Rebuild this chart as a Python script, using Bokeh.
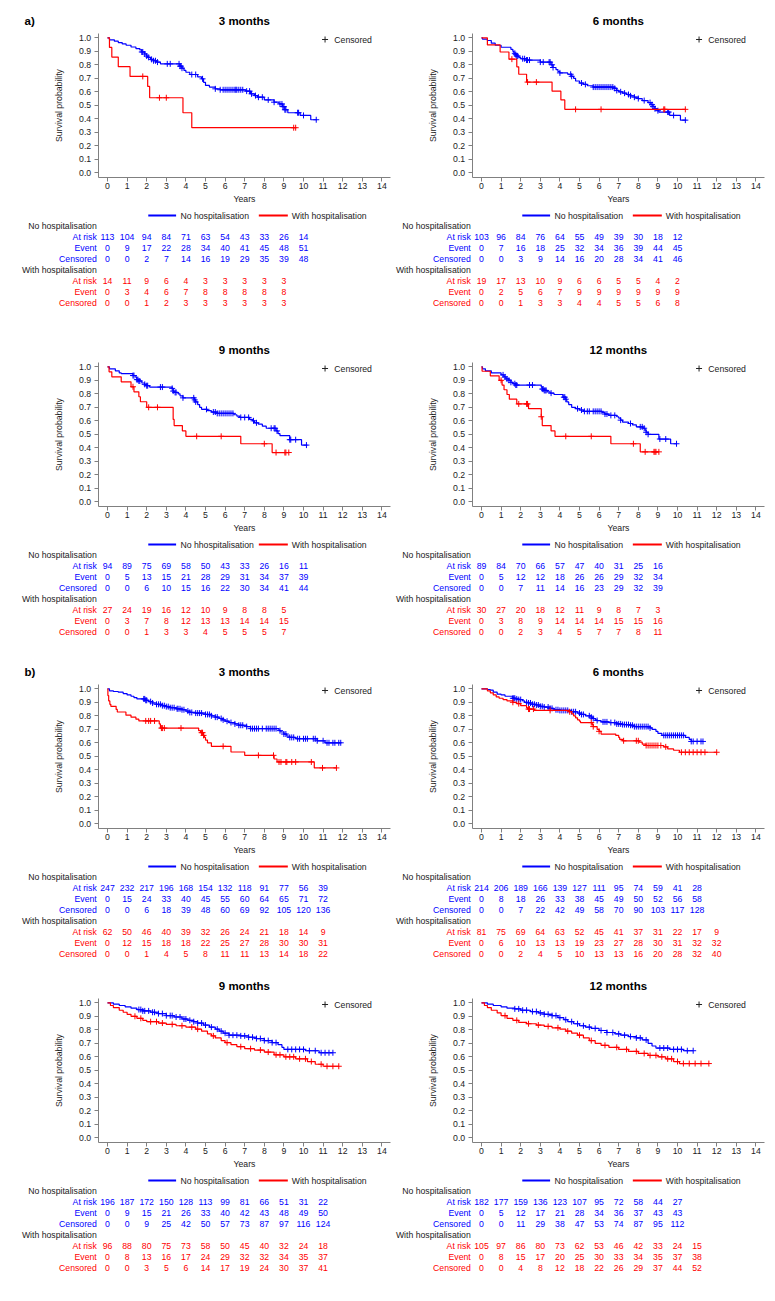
from bokeh.plotting import figure
from bokeh.layouts import column, row
from bokeh.models import Range1d, FixedTicker, NumeralTickFormatter, LinearAxis
from bokeh.embed import file_html
from bokeh.resources import INLINE
from bokeh.core.properties import value

FONT = "Liberation Sans"
BLUE = "#0000FF"
RED = "#FF0000"
AXIS_C = "#808080"
TXT = "#222222"

YEARS = list(range(15))
Y_TICKS = [i / 10 for i in range(11)]
ROW_LABELS = ["At risk", "Event", "Censored"]

# ---------------- a) 3 months ----------------
A3_NO = [(0, 1.0), (0.1, 0.985), (0.35, 0.975), (0.55, 0.965), (0.75, 0.955), (0.95, 0.945), (1.2, 0.932),
         (1.45, 0.92), (1.65, 0.91), (1.75, 0.895), (1.9, 0.88), (2.0, 0.865), (2.05, 0.855), (2.2, 0.84),
         (2.35, 0.83), (2.5, 0.82), (2.7, 0.807), (3.7, 0.79), (3.8, 0.775), (3.9, 0.758), (4.0, 0.745),
         (4.2, 0.728), (4.6, 0.71), (4.8, 0.696), (4.9, 0.67), (5.0, 0.647), (5.2, 0.635), (5.5, 0.622),
         (5.75, 0.615), (7.05, 0.605), (7.3, 0.585), (7.5, 0.572), (7.65, 0.56), (8.0, 0.54), (8.5, 0.523),
         (8.75, 0.51), (8.93, 0.49), (9.05, 0.467), (9.2, 0.445), (9.83, 0.425), (10.37, 0.393)]
A3_NO_END = 10.68
A3_NO_CENS = [1.75, 1.8, 1.9, 2.0, 2.1, 2.25, 2.35, 2.45, 2.55, 3.05, 3.2, 3.65, 3.7, 3.75, 3.8, 4.3, 4.5, 4.85,
              5.5, 5.75, 5.9, 6.0, 6.1, 6.2, 6.3, 6.4, 6.5, 6.55, 6.6, 6.7, 6.8, 6.9, 7.1, 7.25, 7.35, 7.55,
              7.7, 7.9, 8.2, 8.5, 8.8, 8.9, 8.95, 9.0, 9.05, 9.1, 9.7, 9.75, 10.0, 10.65]
A3_W = [(0, 1.0), (0.1, 0.929), (0.22, 0.857), (0.55, 0.786), (1.15, 0.714), (2.05, 0.64), (2.15, 0.556),
        (3.85, 0.445), (4.3, 0.334)]
A3_W_END = 9.6
A3_W_CENS = [1.8, 2.65, 3.0, 9.5, 9.6]
A3_NO_RISK = [113, 104, 94, 84, 71, 63, 54, 43, 33, 26, 14]
A3_NO_EVENT = [0, 9, 17, 22, 28, 34, 40, 41, 45, 48, 51]
A3_NO_CENSN = [0, 0, 2, 7, 14, 16, 19, 29, 35, 39, 48]
A3_W_RISK = [14, 11, 9, 6, 4, 3, 3, 3, 3, 3]
A3_W_EVENT = [0, 3, 4, 6, 7, 8, 8, 8, 8, 8]
A3_W_CENSN = [0, 0, 1, 2, 3, 3, 3, 3, 3, 3]

# ---------------- a) 6 months ----------------
A6_NO = [(0, 1.0), (0.05, 0.99), (0.3, 0.98), (0.5, 0.96), (0.7, 0.945), (1.0, 0.93), (1.5, 0.915), (1.6, 0.9),
         (1.65, 0.885), (1.75, 0.875), (1.8, 0.865), (1.9, 0.855), (2.0, 0.845), (2.3, 0.835), (3.0, 0.82),
         (3.55, 0.8), (3.65, 0.78), (3.8, 0.765), (3.9, 0.75), (4.0, 0.74), (4.4, 0.73), (4.6, 0.715),
         (4.7, 0.7), (4.8, 0.68), (5.0, 0.665), (5.2, 0.655), (5.4, 0.645), (5.7, 0.635), (6.8, 0.625),
         (6.9, 0.61), (7.0, 0.6), (7.2, 0.59), (7.4, 0.58), (7.6, 0.57), (7.8, 0.56), (8.0, 0.55), (8.2, 0.535),
         (8.5, 0.52), (8.65, 0.505), (8.75, 0.49), (8.85, 0.475), (8.95, 0.46), (9.05, 0.45), (9.6, 0.425),
         (10.15, 0.39)]
A6_NO_END = 10.45
A6_NO_CENS = [1.7, 1.75, 1.8, 1.85, 2.1, 2.2, 2.3, 2.35, 2.45, 3.0, 3.15, 3.45, 3.5, 3.6, 3.65, 4.0, 4.55, 4.6,
              5.1, 5.3, 5.7, 5.8, 5.9, 6.0, 6.1, 6.2, 6.3, 6.4, 6.5, 6.6, 6.7, 6.8, 6.9, 7.1, 7.3, 7.5, 7.6, 7.8,
              8.0, 8.3, 8.6, 8.7, 8.75, 8.85, 9.0, 9.5, 9.55, 9.8, 10.4]
A6_W = [(0, 1.0), (0.3, 0.947), (0.95, 0.895), (1.4, 0.842), (1.8, 0.785), (1.9, 0.73), (2.3, 0.672),
        (3.6, 0.605), (4.05, 0.54), (4.25, 0.47)]
A6_W_END = 10.4
A6_W_CENS = [1.55, 2.35, 2.8, 4.8, 6.1, 9.3, 9.35, 10.4]
A6_NO_RISK = [103, 96, 84, 76, 64, 55, 49, 39, 30, 18, 12]
A6_NO_EVENT = [0, 7, 16, 18, 25, 32, 34, 36, 39, 44, 45]
A6_NO_CENSN = [0, 0, 3, 9, 14, 16, 20, 28, 34, 41, 46]
A6_W_RISK = [19, 17, 13, 10, 9, 6, 6, 5, 5, 4, 2]
A6_W_EVENT = [0, 2, 5, 6, 7, 9, 9, 9, 9, 9, 9]
A6_W_CENSN = [0, 0, 1, 3, 3, 4, 4, 5, 5, 6, 8]

# ---------------- a) 9 months ----------------
A9_NO = [(0, 1.0), (0.1, 0.985), (0.4, 0.97), (0.6, 0.955), (0.7, 0.95), (1.3, 0.935), (1.45, 0.92),
         (1.5, 0.905), (1.6, 0.895), (1.75, 0.88), (1.9, 0.87), (2.0, 0.86), (2.15, 0.85), (3.3, 0.84),
         (3.35, 0.82), (3.4, 0.81), (3.6, 0.8), (3.7, 0.785), (3.85, 0.77), (4.45, 0.755), (4.5, 0.74),
         (4.6, 0.72), (4.7, 0.7), (4.8, 0.685), (5.1, 0.675), (5.3, 0.665), (5.6, 0.655), (6.45, 0.645),
         (6.6, 0.635), (6.75, 0.625), (7.25, 0.61), (7.4, 0.6), (7.5, 0.585), (7.7, 0.575), (7.9, 0.56),
         (8.1, 0.545), (8.6, 0.525), (8.7, 0.505), (8.8, 0.49), (9.3, 0.46), (9.9, 0.42)]
A9_NO_END = 10.2
A9_NO_CENS = [1.3, 1.35, 1.5, 1.55, 1.6, 1.65, 1.9, 2.0, 2.05, 2.7, 2.8, 3.3, 3.35, 3.45, 3.5, 3.85, 4.4, 4.45,
              4.5, 5.05, 5.4, 5.5, 5.6, 5.7, 5.8, 5.9, 6.0, 6.1, 6.2, 6.3, 6.4, 6.8, 7.0, 7.2, 7.45, 7.6, 8.35,
              8.5, 8.55, 8.65, 9.3, 9.35, 9.6, 10.15]
A9_W = [(0, 1.0), (0.08, 0.963), (0.22, 0.926), (0.7, 0.889), (1.2, 0.852), (1.35, 0.815), (1.6, 0.778),
        (1.68, 0.741), (2.0, 0.7), (3.35, 0.61), (3.4, 0.565), (3.82, 0.525), (4.0, 0.485), (6.8, 0.43),
        (8.4, 0.365)]
A9_W_END = 9.25
A9_W_CENS = [1.3, 2.1, 2.55, 4.55, 5.8, 8.0, 8.6, 9.05, 9.1, 9.25]
A9_NO_RISK = [94, 89, 75, 69, 58, 50, 43, 33, 26, 16, 11]
A9_NO_EVENT = [0, 5, 13, 15, 21, 28, 29, 31, 34, 37, 39]
A9_NO_CENSN = [0, 0, 6, 10, 15, 16, 22, 30, 34, 41, 44]
A9_W_RISK = [27, 24, 19, 16, 12, 10, 9, 8, 8, 5]
A9_W_EVENT = [0, 3, 7, 8, 12, 13, 13, 14, 14, 15]
A9_W_CENSN = [0, 0, 1, 3, 3, 4, 5, 5, 5, 7]

# ---------------- a) 12 months ----------------
A12_NO = [(0, 1.0), (0.05, 0.985), (0.2, 0.97), (0.5, 0.955), (1.0, 0.94), (1.15, 0.925), (1.25, 0.91),
          (1.4, 0.9), (1.5, 0.885), (1.6, 0.875), (1.75, 0.865), (3.05, 0.85), (3.1, 0.835), (3.2, 0.825),
          (3.35, 0.815), (3.5, 0.805), (3.7, 0.795), (4.15, 0.775), (4.3, 0.76), (4.35, 0.74), (4.45, 0.72),
          (4.6, 0.7), (4.8, 0.69), (5.0, 0.68), (5.2, 0.67), (6.15, 0.66), (6.3, 0.65), (6.5, 0.64),
          (6.9, 0.63), (7.0, 0.62), (7.1, 0.605), (7.2, 0.59), (7.5, 0.58), (7.7, 0.57), (7.9, 0.555),
          (8.25, 0.545), (8.35, 0.53), (8.4, 0.515), (8.5, 0.5), (9.05, 0.465), (9.65, 0.43)]
A12_NO_END = 9.95
A12_NO_CENS = [1.1, 1.2, 1.3, 1.4, 1.5, 1.7, 1.75, 1.8, 2.45, 2.6, 3.1, 3.15, 3.2, 3.25, 3.3, 3.55, 4.2, 4.25,
               4.3, 4.9, 5.1, 5.25, 5.4, 5.5, 5.7, 5.8, 5.9, 6.0, 6.1, 6.3, 6.4, 6.6, 6.8, 7.1, 7.6, 8.1, 8.2,
               8.3, 8.4, 8.5, 9.1, 9.4, 9.95]
A12_W = [(0, 1.0), (0.03, 0.967), (0.45, 0.933), (0.9, 0.9), (1.05, 0.865), (1.15, 0.83), (1.3, 0.795),
         (1.42, 0.76), (1.8, 0.725), (2.4, 0.69), (3.05, 0.63), (3.1, 0.565), (3.55, 0.525), (3.75, 0.485),
         (6.6, 0.43), (8.1, 0.37)]
A12_W_END = 9.05
A12_W_CENS = [1.0, 1.9, 2.3, 2.35, 3.05, 4.3, 5.6, 7.75, 8.35, 8.8, 8.85, 8.9, 9.05]
A12_NO_RISK = [89, 84, 70, 66, 57, 47, 40, 31, 25, 16]
A12_NO_EVENT = [0, 5, 12, 12, 18, 26, 26, 29, 32, 34]
A12_NO_CENSN = [0, 0, 7, 11, 14, 16, 23, 29, 32, 39]
A12_W_RISK = [30, 27, 20, 18, 12, 11, 9, 8, 7, 3]
A12_W_EVENT = [0, 3, 8, 9, 14, 14, 14, 15, 15, 16]
A12_W_CENSN = [0, 0, 2, 3, 4, 5, 7, 7, 8, 11]

# ---------------- b) 3 months ----------------
B3_NO = [(0, 1.0), (0.1, 0.985), (0.3, 0.98), (0.55, 0.975), (0.8, 0.965), (1.0, 0.955), (1.2, 0.945),
         (1.35, 0.935), (1.5, 0.925), (1.95, 0.915), (2.1, 0.905), (2.3, 0.895), (2.5, 0.885), (2.8, 0.875),
         (3.0, 0.868), (3.2, 0.86), (3.5, 0.852), (3.8, 0.845), (4.0, 0.835), (4.2, 0.825), (4.5, 0.82),
         (5.0, 0.81), (5.3, 0.8), (5.5, 0.79), (5.7, 0.78), (5.85, 0.77), (6.0, 0.76), (6.2, 0.75), (6.5, 0.74),
         (6.7, 0.73), (7.1, 0.72), (7.3, 0.705), (8.75, 0.69), (8.85, 0.68), (9.0, 0.665), (9.15, 0.65),
         (9.3, 0.64), (9.6, 0.63), (10.7, 0.615), (11.1, 0.6)]
B3_NO_END = 11.9
B3_NO_CENS = [1.85, 1.9, 1.95, 2.0, 2.2, 2.3, 2.5, 2.6, 2.7, 2.8, 2.9, 3.0, 3.1, 3.2, 3.3, 3.4, 3.55, 3.6, 3.7,
              3.8, 3.9, 4.1, 4.2, 4.3, 4.5, 4.6, 4.7, 4.8, 5.0, 5.1, 5.2, 5.3, 5.5, 5.6, 5.8, 5.9, 6.1, 6.3,
              6.5, 6.7, 6.8, 6.9, 7.1, 7.3, 7.4, 7.5, 7.6, 7.7, 7.9, 8.1, 8.2, 8.3, 8.4, 8.5, 8.6, 8.8, 9.0,
              9.1, 9.3, 9.4, 9.5, 9.7, 9.8, 10.0, 10.1, 10.2, 10.5, 10.6, 10.7, 11.0, 11.2, 11.3, 11.5, 11.6,
              11.8, 11.9]
B3_W = [(0, 1.0), (0.02, 0.95), (0.06, 0.91), (0.12, 0.885), (0.17, 0.87), (0.44, 0.847), (0.5, 0.828),
        (0.94, 0.805), (1.2, 0.79), (1.45, 0.775), (1.6, 0.762), (2.64, 0.74), (2.7, 0.709), (4.65, 0.69),
        (4.75, 0.675), (4.9, 0.655), (4.95, 0.64), (5.0, 0.62), (5.1, 0.6), (5.3, 0.574), (6.3, 0.532),
        (7.0, 0.507), (8.5, 0.48), (8.65, 0.458), (10.55, 0.414)]
B3_W_END = 11.68
B3_W_CENS = [1.95, 2.1, 2.2, 2.4, 2.75, 2.8, 2.9, 3.75, 4.8, 4.85, 4.9, 5.9, 7.7, 8.47, 8.75, 8.85, 9.1, 9.15,
             9.4, 9.6, 10.4, 10.97, 11.68]
B3_NO_RISK = [247, 232, 217, 196, 168, 154, 132, 118, 91, 77, 56, 39]
B3_NO_EVENT = [0, 15, 24, 33, 40, 45, 55, 60, 64, 65, 71, 72]
B3_NO_CENSN = [0, 0, 6, 18, 39, 48, 60, 69, 92, 105, 120, 136]
B3_W_RISK = [62, 50, 46, 40, 39, 32, 26, 24, 21, 18, 14, 9]
B3_W_EVENT = [0, 12, 15, 18, 18, 22, 25, 27, 28, 30, 30, 31]
B3_W_CENSN = [0, 0, 1, 4, 5, 8, 11, 11, 13, 14, 18, 22]

# ---------------- b) 6 months ----------------
B6_NO = [(0, 1.0), (0.3, 0.995), (0.45, 0.99), (0.6, 0.975), (0.8, 0.96), (1.0, 0.955), (1.2, 0.945),
         (1.6, 0.93), (1.75, 0.925), (1.9, 0.92), (2.1, 0.91), (2.2, 0.9), (2.4, 0.895), (2.6, 0.885),
         (2.8, 0.88), (3.0, 0.87), (3.2, 0.865), (3.5, 0.855), (3.7, 0.845), (4.0, 0.84), (4.6, 0.83),
         (4.9, 0.82), (5.1, 0.81), (5.3, 0.8), (5.6, 0.79), (5.7, 0.78), (5.8, 0.77), (5.9, 0.765),
         (6.1, 0.755), (6.5, 0.75), (6.9, 0.74), (7.2, 0.735), (7.6, 0.73), (7.8, 0.72), (8.6, 0.71),
         (8.7, 0.7), (8.9, 0.685), (9.0, 0.67), (9.2, 0.655), (10.4, 0.64), (10.6, 0.625), (10.7, 0.61)]
B6_NO_END = 11.3
B6_NO_CENS = [1.6, 1.65, 1.7, 1.8, 1.9, 2.0, 2.3, 2.4, 2.5, 2.6, 2.7, 2.8, 2.9, 3.0, 3.1, 3.2, 3.4, 3.5, 3.6,
              3.8, 3.9, 4.0, 4.1, 4.2, 4.3, 4.4, 4.6, 4.7, 4.8, 5.0, 5.1, 5.2, 5.5, 5.6, 5.7, 5.9, 6.2, 6.3,
              6.4, 6.6, 6.8, 6.9, 7.0, 7.1, 7.2, 7.3, 7.4, 7.5, 7.6, 7.7, 7.8, 7.9, 8.0, 8.1, 8.2, 8.3, 8.4,
              8.5, 8.6, 9.3, 9.4, 9.5, 9.6, 9.7, 9.8, 9.9, 10.0, 10.1, 10.2, 10.3, 10.7, 10.8, 11.0, 11.2, 11.3]
B6_W = [(0, 1.0), (0.3, 0.985), (0.45, 0.97), (0.6, 0.955), (0.75, 0.94), (0.9, 0.93), (1.1, 0.92),
        (1.3, 0.91), (1.6, 0.9), (1.8, 0.89), (2.0, 0.875), (2.3, 0.86), (2.35, 0.85), (2.7, 0.84),
        (4.45, 0.83), (4.6, 0.815), (4.7, 0.8), (4.8, 0.785), (4.9, 0.77), (5.0, 0.76), (5.05, 0.75),
        (5.65, 0.735), (5.7, 0.72), (5.9, 0.7), (6.0, 0.685), (6.1, 0.665), (6.85, 0.655), (7.0, 0.64),
        (7.05, 0.625), (7.2, 0.615), (8.05, 0.605), (8.2, 0.59), (8.4, 0.58), (9.3, 0.57), (9.5, 0.555),
        (9.8, 0.545), (10.1, 0.53)]
B6_W_END = 12.0
B6_W_CENS = [1.6, 1.9, 2.4, 2.45, 2.65, 3.5, 4.5, 5.6, 5.7, 6.0, 7.25, 7.9, 8.0, 8.4, 8.5, 8.6, 8.7, 8.8,
             8.9, 9.0, 9.15, 9.4, 10.2, 10.4, 10.6, 10.8, 11.0, 11.2, 11.4, 12.0]
B6_NO_RISK = [214, 206, 189, 166, 139, 127, 111, 95, 74, 59, 41, 28]
B6_NO_EVENT = [0, 8, 18, 26, 33, 38, 45, 49, 50, 52, 56, 58]
B6_NO_CENSN = [0, 0, 7, 22, 42, 49, 58, 70, 90, 103, 117, 128]
B6_W_RISK = [81, 75, 69, 64, 63, 52, 45, 41, 37, 31, 22, 17, 9]
B6_W_EVENT = [0, 6, 10, 13, 13, 19, 23, 27, 28, 30, 31, 32, 32]
B6_W_CENSN = [0, 0, 2, 4, 5, 10, 13, 13, 16, 20, 28, 32, 40]

# ---------------- b) 9 months ----------------
B9_NO = [(0, 1.0), (0.3, 0.99), (0.6, 0.98), (0.9, 0.97), (1.2, 0.96), (1.5, 0.95), (1.8, 0.94), (2.2, 0.93),
         (2.6, 0.92), (3.0, 0.905), (3.4, 0.895), (3.8, 0.88), (4.1, 0.87), (4.4, 0.86), (4.6, 0.85),
         (4.9, 0.835), (5.2, 0.82), (5.5, 0.805), (5.7, 0.79), (5.9, 0.775), (6.2, 0.76), (6.8, 0.755),
         (7.2, 0.745), (7.6, 0.735), (8.0, 0.72), (8.4, 0.705), (8.7, 0.69), (8.9, 0.67), (9.0, 0.655),
         (10.1, 0.645), (10.8, 0.63)]
B9_NO_END = 11.5
B9_NO_CENS = [1.6, 1.7, 1.8, 1.9, 2.1, 2.3, 2.4, 2.6, 2.8, 3.0, 3.2, 3.3, 3.5, 3.7, 3.9, 4.0, 4.2, 4.4, 4.6,
              4.8, 5.0, 5.3, 5.6, 5.8, 6.0, 6.2, 6.4, 6.6, 6.8, 7.0, 7.2, 7.4, 7.6, 7.8, 8.0, 8.2, 8.4, 8.6,
              9.2, 9.4, 9.6, 9.8, 10.0, 10.3, 10.6, 10.9, 11.1, 11.3, 11.5]
B9_W = [(0, 1.0), (0.15, 0.98), (0.3, 0.965), (0.6, 0.945), (0.8, 0.93), (1.0, 0.915), (1.2, 0.9),
        (1.5, 0.885), (1.8, 0.87), (2.0, 0.86), (2.6, 0.85), (3.0, 0.84), (3.5, 0.83), (4.0, 0.82),
        (4.5, 0.805), (4.8, 0.79), (5.1, 0.77), (5.3, 0.755), (5.5, 0.74), (5.8, 0.72), (6.0, 0.705),
        (6.3, 0.69), (6.6, 0.675), (7.0, 0.66), (7.5, 0.65), (8.0, 0.635), (8.5, 0.615), (9.0, 0.6),
        (9.6, 0.585), (10.2, 0.565), (10.6, 0.545), (11.0, 0.53)]
B9_W_END = 11.8
B9_W_CENS = [1.4, 1.7, 2.2, 2.5, 2.8, 3.3, 3.8, 4.3, 4.6, 5.4, 6.1, 6.8, 7.3, 7.8, 8.2, 8.6, 8.8, 9.1, 9.3,
             9.5, 9.8, 10.1, 10.4, 10.9, 11.2, 11.5, 11.8]
B9_NO_RISK = [196, 187, 172, 150, 128, 113, 99, 81, 66, 51, 31, 22]
B9_NO_EVENT = [0, 9, 15, 21, 26, 33, 40, 42, 43, 48, 49, 50]
B9_NO_CENSN = [0, 0, 9, 25, 42, 50, 57, 73, 87, 97, 116, 124]
B9_W_RISK = [96, 88, 80, 75, 73, 58, 50, 45, 40, 32, 24, 18]
B9_W_EVENT = [0, 8, 13, 16, 17, 24, 29, 32, 32, 34, 35, 37]
B9_W_CENSN = [0, 0, 3, 5, 6, 14, 17, 19, 24, 30, 37, 41]

# ---------------- b) 12 months ----------------
B12_NO = [(0, 1.0), (0.3, 0.99), (0.6, 0.98), (1.0, 0.97), (1.3, 0.96), (1.7, 0.955), (2.0, 0.945),
          (2.5, 0.935), (2.9, 0.925), (3.2, 0.915), (3.6, 0.905), (3.9, 0.89), (4.2, 0.875), (4.4, 0.86),
          (4.7, 0.845), (5.0, 0.83), (5.3, 0.82), (5.6, 0.81), (6.0, 0.795), (6.4, 0.78), (6.8, 0.77),
          (7.1, 0.76), (7.5, 0.75), (7.9, 0.74), (8.2, 0.725), (8.5, 0.7), (8.7, 0.68), (8.9, 0.665),
          (9.6, 0.655), (10.3, 0.645)]
B12_NO_END = 10.8
B12_NO_CENS = [1.7, 1.9, 2.1, 2.3, 2.6, 2.8, 3.0, 3.2, 3.4, 3.6, 3.8, 4.0, 4.3, 4.6, 4.9, 5.2, 5.5, 5.8, 6.1,
               6.4, 6.7, 7.0, 7.3, 7.6, 7.9, 8.1, 8.4, 9.1, 9.3, 9.5, 9.8, 10.0, 10.2, 10.5, 10.8]
B12_W = [(0, 1.0), (0.15, 0.98), (0.3, 0.965), (0.5, 0.945), (0.8, 0.925), (1.0, 0.905), (1.3, 0.885),
         (1.6, 0.87), (1.9, 0.855), (2.3, 0.845), (2.8, 0.835), (3.2, 0.825), (3.6, 0.815), (4.0, 0.805),
         (4.3, 0.79), (4.6, 0.775), (4.9, 0.76), (5.2, 0.74), (5.5, 0.72), (5.8, 0.7), (6.1, 0.685),
         (6.5, 0.67), (7.0, 0.655), (7.5, 0.64), (8.0, 0.625), (8.5, 0.61), (9.0, 0.6), (9.4, 0.585),
         (9.8, 0.565), (10.1, 0.55)]
B12_W_END = 11.6
B12_W_CENS = [1.2, 1.8, 2.4, 2.9, 3.4, 3.9, 4.4, 5.0, 5.6, 6.3, 6.9, 7.4, 7.9, 8.3, 8.6, 8.9, 9.2, 9.5, 9.7,
              10.0, 10.3, 10.6, 10.9, 11.2, 11.6]
B12_NO_RISK = [182, 177, 159, 136, 123, 107, 95, 72, 58, 44, 27]
B12_NO_EVENT = [0, 5, 12, 17, 21, 28, 34, 36, 37, 43, 43]
B12_NO_CENSN = [0, 0, 11, 29, 38, 47, 53, 74, 87, 95, 112]
B12_W_RISK = [105, 97, 86, 80, 73, 62, 53, 46, 42, 33, 24, 15]
B12_W_EVENT = [0, 8, 15, 17, 20, 25, 30, 33, 34, 35, 37, 38]
B12_W_CENSN = [0, 0, 4, 8, 12, 18, 22, 26, 29, 37, 44, 52]

# ---------------- layout (pixels inside one panel) ----------------
FIG_W = {"L": 392, "R": 383}
ZERO_PX = {"L": 107.0, "R": 89.0}   # where year 0 sits, from the panel's left edge
PPY = 19.6                           # pixels per year
ONE_PX, NULL_PX = 37.3, 172.3        # survival 1.0 / 0.0, from the panel's top edge
PPU = NULL_PX - ONE_PX               # pixels per unit of survival
ROW_H = [329, 322, 314, 318]

X_AXIS = -0.4745                     # y-axis line position (years)
X_END = 14.44                        # end of x-axis line (years)
Y_BOT = -0.0326                      # x-axis line position (survival)
Y_TOP = 1.032                        # top of y-axis line


def yv(py):
    return (NULL_PX - py) / PPU


def surv_at(curve, t):
    s = curve[0][1]
    for ti, si in curve:
        if ti <= t:
            s = si
    return s


def txt(**kw):
    d = dict(text_font=value(FONT), text_font_size="8.7px", text_baseline="middle")
    d.update(kw)
    return d


def style_axis(ax):
    ax.axis_line_color = AXIS_C
    ax.major_tick_line_color = AXIS_C
    ax.minor_tick_line_color = None
    ax.major_tick_in = 0
    ax.major_tick_out = 4
    ax.major_label_text_font = FONT
    ax.major_label_text_font_size = "8.7px"
    ax.major_label_text_color = TXT
    ax.axis_label_text_font = FONT
    ax.axis_label_text_font_size = "8.7px"
    ax.axis_label_text_font_style = "normal"
    ax.axis_label_text_color = TXT


def make_panel(side, height, title, curves, tables, no_label="No hospitalisation", tag=None):
    w = FIG_W[side]
    x0 = -ZERO_PX[side] / PPY
    x1 = (w - ZERO_PX[side]) / PPY
    p = figure(width=w, height=height, x_range=Range1d(x0, x1), y_range=Range1d(yv(height), yv(0)),
               output_backend="svg", toolbar_location=None, min_border=0,
               x_axis_type=None, y_axis_type=None)
    p.outline_line_color = None
    p.grid.visible = False
    p.background_fill_color = "white"
    p.border_fill_color = "white"

    xa = LinearAxis(fixed_location=Y_BOT, bounds=(X_AXIS, X_END), ticker=FixedTicker(ticks=YEARS),
                    axis_label="Years")
    style_axis(xa)
    xa.major_label_standoff = 2
    xa.axis_label_standoff = 1
    p.add_layout(xa, "below")
    ya = LinearAxis(fixed_location=X_AXIS, bounds=(Y_BOT, Y_TOP), ticker=FixedTicker(ticks=Y_TICKS),
                    formatter=NumeralTickFormatter(format="0.0"), axis_label="Survival probability")
    style_axis(ya)
    ya.major_label_standoff = 3
    ya.axis_label_standoff = 12
    p.add_layout(ya, "left")

    # title and panel tag
    p.text([(X_AXIS + X_END) / 2], [yv(20)], text=[title], text_color="#000000", text_align="center",
           **txt(text_font_size="11.5px", text_font_style="bold"))
    if tag:
        p.text([-4.235], [yv(20)], text=[tag], text_color="#000000", text_align="left",
               **txt(text_font_size="11.5px", text_font_style="bold"))

    no_c, no_end, no_cens, w_c, w_end, w_cens = curves
    for curve, end, cens, col in ((no_c, no_end, no_cens, BLUE), (w_c, w_end, w_cens, RED)):
        xs = [c[0] for c in curve] + [end]
        ys = [c[1] for c in curve] + [curve[-1][1]]
        p.step(xs, ys, mode="after", line_color=col, line_width=1.2)
        p.scatter(cens, [surv_at(curve, c) for c in cens], marker="cross", size=6,
                  line_color=col, line_width=1)

    # "+ Censored" key
    p.scatter([11.1], [yv(39)], marker="cross", size=6, line_color=TXT, line_width=1)
    p.text([11.57], [yv(39)], text=["Censored"], text_color=TXT, **txt())

    # series key
    ky = yv(215)
    p.line([2.08, 3.5], [ky, ky], line_color=BLUE, line_width=2)
    p.text([3.72], [ky], text=[no_label], text_color=TXT, **txt())
    p.line([7.72, 9.2], [ky, ky], line_color=RED, line_width=2)
    p.text([9.4], [ky], text=["With hospitalisation"], text_color=TXT, **txt())

    # numbers-at-risk table
    lab_x = -0.55
    py = 225.0
    pitch = 11.1
    for header, rows, col in (("No hospitalisation", tables[0], BLUE),
                              ("With hospitalisation", tables[1], RED)):
        p.text([lab_x], [yv(py)], text=[header], text_color=TXT, text_align="right", **txt())
        py += pitch
        for lab, vals in zip(ROW_LABELS, rows):
            p.text([lab_x], [yv(py)], text=[lab], text_color=col, text_align="right", **txt())
            p.text(list(range(len(vals))), [yv(py)] * len(vals), text=[str(v) for v in vals],
                   text_color=col, text_align="center", **txt())
            py += pitch
    return p


r1 = row(
    make_panel("L", ROW_H[0], "3 months", (A3_NO, A3_NO_END, A3_NO_CENS, A3_W, A3_W_END, A3_W_CENS),
               ((A3_NO_RISK, A3_NO_EVENT, A3_NO_CENSN), (A3_W_RISK, A3_W_EVENT, A3_W_CENSN)), tag="a)"),
    make_panel("R", ROW_H[0], "6 months", (A6_NO, A6_NO_END, A6_NO_CENS, A6_W, A6_W_END, A6_W_CENS),
               ((A6_NO_RISK, A6_NO_EVENT, A6_NO_CENSN), (A6_W_RISK, A6_W_EVENT, A6_W_CENSN))),
    spacing=0)
r2 = row(
    make_panel("L", ROW_H[1], "9 months", (A9_NO, A9_NO_END, A9_NO_CENS, A9_W, A9_W_END, A9_W_CENS),
               ((A9_NO_RISK, A9_NO_EVENT, A9_NO_CENSN), (A9_W_RISK, A9_W_EVENT, A9_W_CENSN)),
               no_label="No hhospitalisation"),
    make_panel("R", ROW_H[1], "12 months", (A12_NO, A12_NO_END, A12_NO_CENS, A12_W, A12_W_END, A12_W_CENS),
               ((A12_NO_RISK, A12_NO_EVENT, A12_NO_CENSN), (A12_W_RISK, A12_W_EVENT, A12_W_CENSN))),
    spacing=0)
r3 = row(
    make_panel("L", ROW_H[2], "3 months", (B3_NO, B3_NO_END, B3_NO_CENS, B3_W, B3_W_END, B3_W_CENS),
               ((B3_NO_RISK, B3_NO_EVENT, B3_NO_CENSN), (B3_W_RISK, B3_W_EVENT, B3_W_CENSN)), tag="b)"),
    make_panel("R", ROW_H[2], "6 months", (B6_NO, B6_NO_END, B6_NO_CENS, B6_W, B6_W_END, B6_W_CENS),
               ((B6_NO_RISK, B6_NO_EVENT, B6_NO_CENSN), (B6_W_RISK, B6_W_EVENT, B6_W_CENSN))),
    spacing=0)
r4 = row(
    make_panel("L", ROW_H[3], "9 months", (B9_NO, B9_NO_END, B9_NO_CENS, B9_W, B9_W_END, B9_W_CENS),
               ((B9_NO_RISK, B9_NO_EVENT, B9_NO_CENSN), (B9_W_RISK, B9_W_EVENT, B9_W_CENSN))),
    make_panel("R", ROW_H[3], "12 months", (B12_NO, B12_NO_END, B12_NO_CENS, B12_W, B12_W_END, B12_W_CENS),
               ((B12_NO_RISK, B12_NO_EVENT, B12_NO_CENSN), (B12_W_RISK, B12_W_EVENT, B12_W_CENSN))),
    spacing=0)

page = column(r1, r2, r3, r4, spacing=0)

with open("out.html", "w") as f:
    f.write(file_html(page, INLINE))
